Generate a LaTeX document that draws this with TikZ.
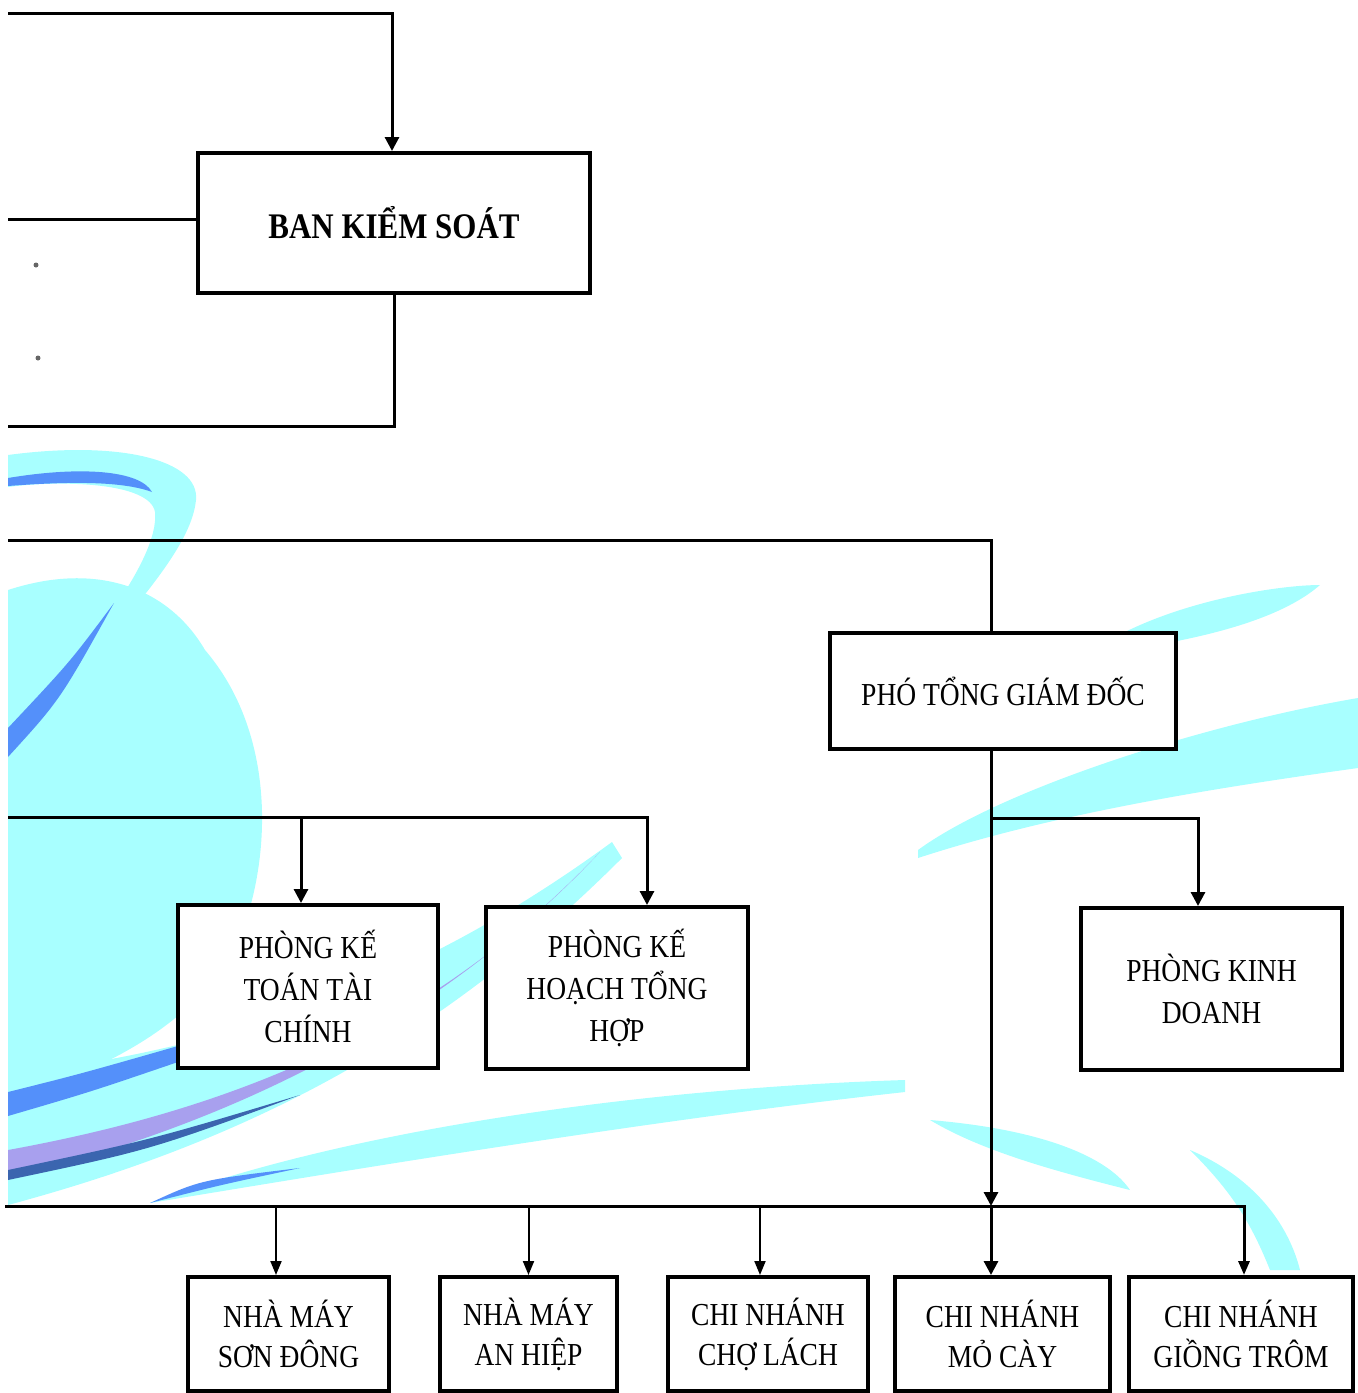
\documentclass[tikz,border=0pt]{standalone}
\usepackage{fontspec}
\setmainfont{Liberation Serif}[FakeStretch=0.86]
\usepackage{tikz}
\usetikzlibrary{arrows.meta}
\definecolor{splash}{RGB}{168,255,255}
\definecolor{ink}{RGB}{84,144,250}
\definecolor{lilac}{RGB}{168,160,238}

\begin{document}
\begin{tikzpicture}[x=0.5pt,y=-0.5pt,
  box/.style={draw,fill=white,line width=2pt,inner sep=0pt,align=center,
    font=\fontsize{16pt}{21pt}\selectfont},
  unit/.style={box,minimum width=#1,minimum height=57pt,
    font=\fontsize{16pt}{20pt}\selectfont},
  link/.style={line width=1.5pt,-{Triangle[length=7pt,width=7pt]}},
  feed/.style={line width=1pt,-{Triangle[length=7pt,width=5.5pt]}},
  bar/.style={line width=1.5pt}]
  \useasboundingbox (0,0) rectangle (1358,1393);

  % watercolour background
  \fill[splash] (8,590) .. controls (100,560) and (170,590) .. (205,650)
    .. controls (265,720) and (272,820) .. (252,900)
    .. controls (232,980) and (170,1050) .. (8,1100) -- cycle;
  \fill[splash] (8,455) .. controls (120,440) and (200,460) .. (196,500)
    .. controls (190,560) and (100,640) .. (8,762) -- (8,735)
    .. controls (80,660) and (160,560) .. (155,512)
    .. controls (150,482) and (60,480) .. (8,487) -- cycle;
  \fill[ink] (8,478) .. controls (80,466) and (140,470) .. (152,492)
    .. controls (120,480) and (60,482) .. (8,486) -- cycle;
  \fill[ink] (8,757) .. controls (60,700) .. (114,603)
    .. controls (70,662) .. (8,728) -- cycle;
  \fill[splash] (8,1075) .. controls (250,1045) and (430,975) .. (612,842)
    -- (622,858) .. controls (440,1040) and (250,1140) .. (8,1205) -- cycle;
  \fill[ink] (8,1092) .. controls (80,1074) .. (178,1046)
    -- (178,1062) .. controls (90,1092) .. (8,1116) -- cycle;
  \fill[lilac] (8,1150) .. controls (200,1115) and (420,1045) .. (600,852)
    .. controls (450,1010) and (250,1120) .. (8,1178) -- cycle;
  \fill[ink!70!black] (8,1170) .. controls (150,1140) .. (300,1095)
    .. controls (150,1150) .. (8,1180) -- cycle;
  \fill[splash] (150,1203) .. controls (350,1128) and (650,1088) .. (905,1080)
    -- (905,1092) .. controls (650,1120) and (350,1170) .. (150,1203) -- cycle;
  \fill[ink] (150,1203) .. controls (200,1180) .. (300,1168)
    .. controls (220,1185) .. (150,1203) -- cycle;
  \fill[splash] (918,850) .. controls (1000,790) and (1200,725) .. (1358,698)
    -- (1358,768) .. controls (1200,790) and (1050,815) .. (918,858) -- cycle;
  \fill[splash] (1110,640) .. controls (1180,600) and (1280,585) .. (1320,585)
    .. controls (1280,620) and (1200,640) .. (1110,652) -- cycle;
  \fill[splash] (930,1120) .. controls (1050,1130) and (1110,1160) .. (1130,1190)
    .. controls (1050,1170) and (980,1150) .. (930,1120) -- cycle;
  \fill[splash] (1190,1150) .. controls (1260,1180) and (1290,1230) .. (1300,1270)
    -- (1270,1270) .. controls (1250,1220) and (1230,1190) .. (1190,1150) -- cycle;
  \fill[black!60] (36,265) circle (2.5) (38,358) circle (2.5);

  % boxes
  \node[box,minimum width=196pt,minimum height=70pt,
    font=\bfseries\fontsize{18pt}{21pt}\selectfont] (bks) at (394,223) {BAN KIỂM SOÁT};
  \node[box,minimum width=173pt,minimum height=58pt] (ptgd) at (1003,691) {PHÓ TỔNG GIÁM ĐỐC};
  \node[box,minimum width=130pt,minimum height=81.5pt] (pktc) at (308,986.5) {PHÒNG KẾ\\TOÁN TÀI\\CHÍNH};
  \node[box,minimum width=131pt,minimum height=81pt] (pkh) at (617,988) {PHÒNG KẾ\\HOẠCH TỔNG\\HỢP};
  \node[box,minimum width=130.5pt,minimum height=81pt] (pkd) at (1211.5,989) {PHÒNG KINH\\DOANH};
  \node[unit=100.5pt] (sd) at (288.5,1334) {NHÀ MÁY\\SƠN ĐÔNG};
  \node[unit=88.5pt] (ah) at (528.5,1334) {NHÀ MÁY\\AN HIỆP};
  \node[unit=100pt] (cl) at (768,1334) {CHI NHÁNH\\CHỢ LÁCH};
  \node[unit=107.5pt] (mc) at (1002.5,1334) {CHI NHÁNH\\MỎ CÀY};
  \node[unit=112pt] (gt) at (1241,1334) {CHI NHÁNH\\GIỒNG TRÔM};

  % free ends and joints
  \coordinate (in1) at (8,13);
  \coordinate (in2) at (8,219);
  \coordinate (out1) at (8,426);
  \coordinate (in3) at (8,540);
  \coordinate (in4) at (8,817);
  \coordinate (in5) at (5,1206);
  \coordinate (trunk) at (991,818);

  % connectors
  \draw[link] (in1) -| ([xshift=-1pt]bks.north);
  \draw[bar] (in2) -- (in2 -| bks.west);
  \draw[bar] (bks.south) |- (out1);
  \draw[bar] (in3) -| (trunk |- ptgd.north);
  \draw[link] (trunk |- ptgd.south) -- (trunk |- in5);
  \draw[link] (trunk |- in5) -- (trunk |- mc.north);
  \draw[link] (trunk) -| ([xshift=-6.75pt]pkd.north);
  \draw[link] (in4) -| ([xshift=15pt]pkh.north);
  \draw[link] ([xshift=-3.5pt]pktc.north |- in4) -- ([xshift=-3.5pt]pktc.north);
  \draw[bar,-{Triangle[length=7pt,width=5.5pt]}] (in5) -| ([xshift=1.5pt]gt.north);
  \draw[feed] ([xshift=-6.25pt]sd.north |- in5) -- ([xshift=-6.25pt]sd.north);
  \draw[feed] (ah.north |- in5) -- (ah.north);
  \draw[feed] ([xshift=-4pt]cl.north |- in5) -- ([xshift=-4pt]cl.north);
\end{tikzpicture}
\end{document}
